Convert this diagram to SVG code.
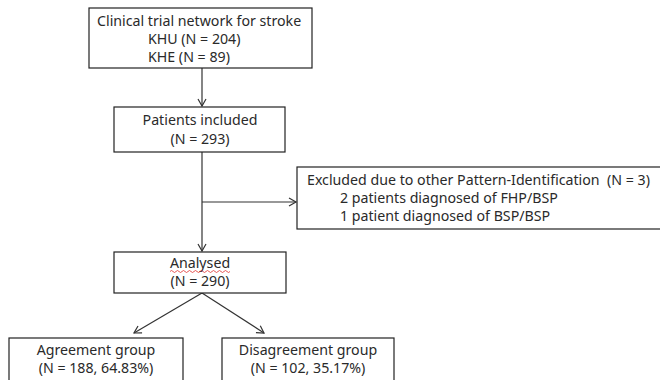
<svg xmlns="http://www.w3.org/2000/svg" width="660" height="380" viewBox="0 0 660 380">
<style>
.box{fill:#fff;stroke:#222;stroke-width:1.2}
.t{font-family:"Noto Sans","Liberation Sans",sans-serif;font-size:14.2px;fill:#2a2a2a}
.c{text-anchor:middle}
.pre{white-space:pre}
.ln{stroke:#333;stroke-width:1.2;fill:none}
</style>
<defs>
<marker id="ah" markerWidth="12" markerHeight="12" refX="10" refY="6" orient="auto" markerUnits="userSpaceOnUse">
<path d="M3,2 L10,6 L3,10" fill="none" stroke="#333" stroke-width="1.2"/>
</marker>
</defs>
<rect width="660" height="380" fill="#fff"/>
<g id="connectors">
<line class="ln" x1="202" y1="68" x2="202" y2="106" marker-end="url(#ah)"/>
<line class="ln" x1="202" y1="152" x2="202" y2="251" marker-end="url(#ah)"/>
<line class="ln" x1="202" y1="202" x2="296" y2="202" marker-end="url(#ah)"/>
<line class="ln" x1="202" y1="293" x2="134" y2="333" marker-end="url(#ah)"/>
<line class="ln" x1="202" y1="293" x2="264" y2="333" marker-end="url(#ah)"/>
</g>
<g id="network">
<rect class="box" x="89" y="8" width="223" height="60"/>
<text class="t" x="97" y="26">Clinical trial network for stroke</text>
<text class="t pre" x="148" y="44">KHU (N = 204)</text>
<text class="t pre" x="148" y="62">KHE (N = 89)</text>
</g>
<g id="included">
<rect class="box" x="114" y="107" width="171" height="45"/>
<text class="t c" x="200" y="125">Patients included</text>
<text class="t c" x="200" y="144">(N = 293)</text>
</g>
<g id="excluded">
<rect class="box" x="297" y="167" width="370" height="62"/>
<text class="t pre" x="307" y="185">Excluded due to other Pattern-Identification  (N = 3)</text>
<text class="t" x="340" y="203">2 patients diagnosed of FHP/BSP</text>
<text class="t" x="340" y="221">1 patient diagnosed of BSP/BSP</text>
</g>
<g id="analysed">
<rect class="box" x="114" y="252" width="172" height="41"/>
<text class="t c" x="200" y="268">Analysed</text>
<path d="M170,271.5 q1.5,-2 3,0 t3,0 t3,0 t3,0 t3,0 t3,0 t3,0 t3,0 t3,0 t3,0 t3,0 t3,0 t3,0 t3,0 t3,0 t3,0 t3,0 t3,0 t3,0 t3,0" fill="none" stroke="#e03030" stroke-width="0.8"/>
<text class="t c" x="200" y="286">(N = 290)</text>
</g>
<g id="agreement">
<rect class="box" x="9" y="338" width="174" height="50"/>
<text class="t c" x="96" y="355">Agreement group</text>
<text class="t c" x="96" y="373">(N = 188, 64.83%)</text>
</g>
<g id="disagreement">
<rect class="box" x="222" y="338" width="172" height="50"/>
<text class="t c" x="308" y="355">Disagreement group</text>
<text class="t c" x="308" y="373">(N = 102, 35.17%)</text>
</g>
</svg>
